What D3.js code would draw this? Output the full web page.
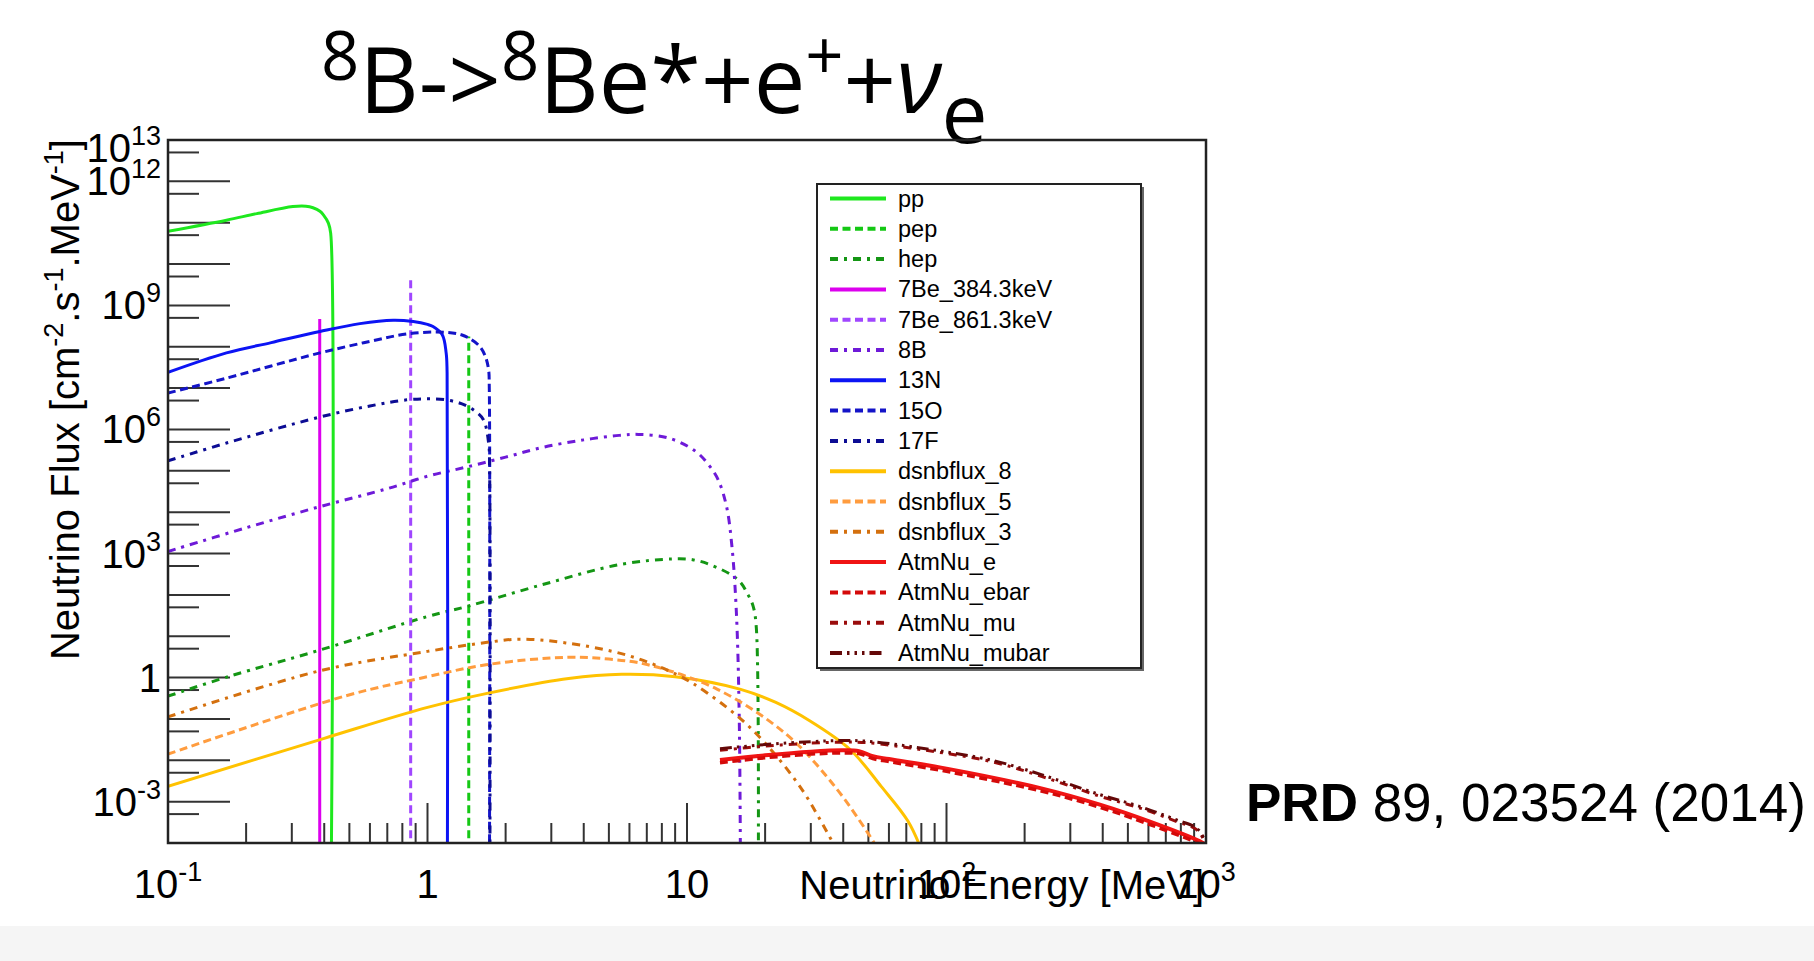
<!DOCTYPE html>
<html>
<head>
<meta charset="utf-8">
<script src="https://cdn.jsdelivr.net/npm/d3@7"></script>
<style>
  html, body { margin: 0; padding: 0; background: #ffffff; }
  svg { display: block; }
</style>
</head>
<body>
<svg id="chart" width="1814" height="961"></svg>
<script>
// ---- axis ranges and tick labels ----
const energyDomain = [0.1, 1000];          // MeV
const fluxDomain = [1e-4, 1e13];           // cm^-2 s^-1 MeV^-1
const energyTickLabels = [
  { v: 0.1, base: "10", sup: "-1" },
  { v: 1, base: "1", sup: "" },
  { v: 10, base: "10", sup: "" },
  { v: 100, base: "10", sup: "2" },
  { v: 1000, base: "10", sup: "3" }
];
const fluxTickLabels = [
  { v: 1e13, base: "10", sup: "13" },
  { v: 1e12, base: "10", sup: "12" },
  { v: 1e9, base: "10", sup: "9" },
  { v: 1e6, base: "10", sup: "6" },
  { v: 1e3, base: "10", sup: "3" },
  { v: 1, base: "1", sup: "" },
  { v: 1e-3, base: "10", sup: "-3" }
];

// ---- series: [energy MeV, flux] ----
const ppFlux = [[0.1, 6.2e10], [0.168, 1.15e11], [0.22, 1.66e11], [0.303, 2.45e11], [0.34, 2.5e11],
  [0.362, 2.3e11], [0.385, 1.9e11], [0.397, 1.55e11], [0.415, 9.8e10], [0.4235, 5.6e10], [0.424, 1e-6]];
const pepFlux = [[1.442, 1e-6], [1.442, 1.78e8]];
const hepFlux = [[0.1, 0.355], [0.172, 1.07], [0.388, 4.7], [1.0, 30], [1.41, 52], [2.78, 178], [5.48, 537],
  [8.8, 741], [10.5, 708], [12.3, 537], [15.7, 234], [17.2, 100], [18.0, 52], [18.5, 16], [18.8, 1e-6]];
const be7LowFlux = [[0.3843, 1e-6], [0.3843, 4.7e8]];
const be7HighFlux = [[0.8613, 1e-6], [0.8613, 4.4e9]];
const b8Flux = [[0.1, 1.12e3], [0.2, 4.2e3], [0.388, 1.38e4], [0.7, 3.7e4], [1.0, 7.4e4], [1.41, 1.23e5],
  [2.0, 2.14e5], [2.78, 3.7e5], [4.0, 5.6e5], [5.48, 7.2e5], [6.5, 7.6e5], [8.5, 6.2e5], [10.8, 2.95e5],
  [12.2, 1.32e5], [13.2, 6.0e4], [14.2, 1.38e4], [14.9, 1.48e3], [15.5, 37], [15.9, 0.1], [16.1, 1e-6]];
const n13Flux = [[0.1, 2.4e7], [0.168, 7.1e7], [0.25, 1.26e8], [0.385, 2.34e8], [0.549, 3.63e8], [0.738, 4.37e8],
  [0.881, 4.07e8], [1.0, 3.47e8], [1.05, 3.09e8], [1.14, 1.95e8], [1.18, 7.1e7], [1.19, 2.34e7], [1.192, 1e-6]];
const o15Flux = [[0.1, 7.6e6], [0.168, 1.74e7], [0.385, 7.1e7], [0.6, 1.35e8], [0.854, 2.09e8], [1.18, 2.24e8],
  [1.35, 1.95e8], [1.46, 1.55e8], [1.59, 1.02e8], [1.67, 5.9e7], [1.72, 2.75e7], [1.73, 1.07e7], [1.732, 1e-6]];
const f17Flux = [[0.1, 1.74e5], [0.168, 4.7e5], [0.385, 2.0e6], [0.6, 3.7e6], [0.832, 5.2e6], [1.0, 5.5e6],
  [1.18, 5.2e6], [1.35, 4.2e6], [1.5, 3.0e6], [1.64, 1.74e6], [1.72, 4.7e5], [1.735, 1e5], [1.738, 1e-6]];
const dsnb8Flux = [[0.1, 2.34e-3], [0.4, 0.034], [1.0, 0.19], [1.68, 0.41], [3.5, 0.95], [5.6, 1.2], [9.0, 1.05],
  [16.1, 0.52], [22, 0.25], [29.8, 0.089], [42.6, 0.018], [56, 2.34e-3], [71, 3.4e-4], [80.5, 6.3e-5]];
const dsnb5Flux = [[0.1, 0.0141], [0.49, 0.37], [1.0, 1.05], [1.68, 2.04], [3.45, 3.1], [5.0, 2.8], [7.08, 2.04],
  [13.1, 0.52], [24.3, 0.041], [36.6, 2.6e-3], [49.8, 1.74e-4], [55, 6.3e-5]];
const dsnb3Flux = [[0.1, 0.112], [0.388, 1.48], [1.0, 4.3], [1.78, 7.4], [2.27, 8.5], [3.41, 6.9], [5.85, 3.5],
  [9.1, 1.2], [12, 0.42], [17.8, 0.056], [26.9, 2.6e-3], [34.8, 1.74e-4], [38, 6.3e-5]];
const atmNuEFlux = [[13.4, 0.0102], [20, 0.0132], [30, 0.0162], [40, 0.0174], [46, 0.0166], [52, 0.0126],
  [60, 0.0107], [100, 6.3e-3], [232, 2.1e-3], [390, 8.5e-4], [608, 3.3e-4], [948, 1.1e-4], [1000, 8.9e-5]];
const atmNuEbarFlux = [[13.4, 8.7e-3], [20, 0.0115], [30, 0.0141], [40, 0.0151], [46, 0.0145], [52, 0.011],
  [60, 9.3e-3], [100, 5.4e-3], [232, 1.8e-3], [390, 7.3e-4], [608, 2.8e-4], [948, 9.5e-5], [1000, 7.8e-5]];
const atmNuMuFlux = [[13.4, 0.0175], [20, 0.022], [30, 0.026], [40, 0.0275], [50, 0.0265], [83, 0.0175],
  [150, 9.2e-3], [232, 4.1e-3], [390, 1.35e-3], [557, 7.0e-4], [771, 3.3e-4], [920, 2.1e-4], [990, 1.0e-4], [1000, 5.5e-5]];
const atmNuMubarFlux = [[13.4, 0.019], [20, 0.024], [30, 0.0282], [40, 0.030], [50, 0.0288], [83, 0.019],
  [150, 0.01], [232, 4.5e-3], [390, 1.48e-3], [557, 7.6e-4], [771, 3.6e-4], [920, 2.3e-4], [990, 1.12e-4], [1000, 6.3e-5]];

// ---- line styles ----
const DASH = "8,4.5";
const DASHDOT = "8,6,3,6";
const DASHDOTS = "12,5,2.5,5,2.5,5,2.5,5";

const series = [
  { name: "pp", data: ppFlux, color: "#1ee81e", dash: null, width: 3 },
  { name: "pep", data: pepFlux, color: "#14c814", dash: DASH, width: 3 },
  { name: "hep", data: hepFlux, color: "#149614", dash: DASHDOT, width: 3 },
  { name: "7Be_384.3keV", data: be7LowFlux, color: "#dc00ee", dash: null, width: 3 },
  { name: "7Be_861.3keV", data: be7HighFlux, color: "#a046ff", dash: DASH, width: 3 },
  { name: "8B", data: b8Flux, color: "#6e1ad8", dash: DASHDOT, width: 3 },
  { name: "13N", data: n13Flux, color: "#0c14f4", dash: null, width: 3 },
  { name: "15O", data: o15Flux, color: "#1414c8", dash: DASH, width: 3 },
  { name: "17F", data: f17Flux, color: "#0c0c94", dash: DASHDOT, width: 3 },
  { name: "dsnbflux_8", data: dsnb8Flux, color: "#ffc200", dash: null, width: 3 },
  { name: "dsnbflux_5", data: dsnb5Flux, color: "#ff9c3e", dash: DASH, width: 3 },
  { name: "dsnbflux_3", data: dsnb3Flux, color: "#d4700e", dash: DASHDOT, width: 3 },
  { name: "AtmNu_e", data: atmNuEFlux, color: "#f01414", dash: null, width: 4 },
  { name: "AtmNu_ebar", data: atmNuEbarFlux, color: "#d40a0a", dash: DASH, width: 3.5 },
  { name: "AtmNu_mu", data: atmNuMuFlux, color: "#9a0c0c", dash: DASHDOT, width: 3 },
  { name: "AtmNu_mubar", data: atmNuMubarFlux, color: "#640808", dash: DASHDOTS, width: 3 }
];

// ---- layout ----
const frame = { left: 168, right: 1206, top: 140, bottom: 843 };
const FONT = "'Liberation Sans', Arial, Helvetica, sans-serif";

const svg = d3.select("#chart");
svg.append("rect").attr("x", 0).attr("y", 0).attr("width", 1814).attr("height", 961).attr("fill", "#ffffff");
svg.append("rect").attr("x", 0).attr("y", 926).attr("width", 1814).attr("height", 35).attr("fill", "#f5f5f5");

const x = d3.scaleLog().domain(energyDomain).range([frame.left, frame.right]);
const y = d3.scaleLog().domain(fluxDomain).range([frame.bottom, frame.top]);

// ---- title ----
const title = svg.append("text")
  .attr("x", 321).attr("y", 113)
  .attr("font-family", "'Open Sans', 'Noto Sans', sans-serif")
  .attr("font-size", 92).attr("fill", "#000");
const supSize = 67, supShift = 33, subSize = 82, subShift = 30;
title.append("tspan").attr("font-size", supSize).attr("dy", -supShift).text("8");
title.append("tspan").attr("dy", supShift).text("B->");
title.append("tspan").attr("font-size", supSize).attr("dy", -supShift).text("8");
title.append("tspan").attr("dy", supShift).text("Be*+e");
title.append("tspan").attr("font-size", supSize).attr("dy", -supShift).text("+");
title.append("tspan").attr("dy", supShift).text("+");
title.append("tspan").attr("font-style", "italic").text("\u03bd");
title.append("tspan").attr("font-size", subSize).attr("dy", subShift).text("e");

// ---- clip region for curves ----
svg.append("clipPath").attr("id", "plotClip")
  .append("rect").attr("x", frame.left).attr("y", frame.top)
  .attr("width", frame.right - frame.left).attr("height", frame.bottom - frame.top);

// ---- ticks ----
const tickG = svg.append("g").attr("stroke", "#333").attr("stroke-width", 2);
// energy axis: decades long, 2..9 short
const xMajor = [], xMinor = [];
for (let p = -1; p <= 3; p++) {
  xMajor.push(Math.pow(10, p));
  if (p < 3) for (let k = 2; k <= 9; k++) xMinor.push(k * Math.pow(10, p));
}
tickG.selectAll("line.xmaj").data(xMajor).join("line")
  .attr("x1", d => x(d)).attr("x2", d => x(d))
  .attr("y1", frame.bottom).attr("y2", frame.bottom - 40);
tickG.selectAll("line.xmin").data(xMinor).join("line")
  .attr("x1", d => x(d)).attr("x2", d => x(d))
  .attr("y1", frame.bottom).attr("y2", frame.bottom - 20);
// flux axis: decades long, 5x short
const yMajor = [], yMinor = [];
for (let p = -4; p <= 13; p++) {
  yMajor.push(Math.pow(10, p));
  if (p < 13) yMinor.push(5 * Math.pow(10, p));
}
tickG.selectAll("line.ymaj").data(yMajor).join("line")
  .attr("x1", frame.left).attr("x2", frame.left + 62)
  .attr("y1", d => y(d)).attr("y2", d => y(d));
tickG.selectAll("line.ymin").data(yMinor).join("line")
  .attr("x1", frame.left).attr("x2", frame.left + 31)
  .attr("y1", d => y(d)).attr("y2", d => y(d));

// ---- curves ----
const line = d3.line()
  .x(d => x(d[0]))
  .y(d => y(d[1]))
  .curve(d3.curveCatmullRom.alpha(0.5));

const curveG = svg.append("g").attr("clip-path", "url(#plotClip)");
curveG.selectAll("path").data(series).join("path")
  .attr("d", d => line(d.data))
  .attr("fill", "none")
  .attr("stroke", d => d.color)
  .attr("stroke-width", d => d.width)
  .attr("stroke-dasharray", d => d.dash)
  .attr("stroke-linejoin", "round");

// ---- frame ----
svg.append("rect")
  .attr("x", frame.left).attr("y", frame.top)
  .attr("width", frame.right - frame.left).attr("height", frame.bottom - frame.top)
  .attr("fill", "none").attr("stroke", "#222").attr("stroke-width", 2.5);

// ---- tick labels ----
const xLab = svg.append("g").attr("font-family", FONT).attr("font-size", 40).attr("fill", "#000");
energyTickLabels.forEach(t => {
  const tx = xLab.append("text").attr("x", x(t.v)).attr("y", 898).attr("text-anchor", "middle");
  tx.append("tspan").text(t.base);
  if (t.sup) tx.append("tspan").attr("font-size", 27).attr("dy", -17).text(t.sup);
});
const yLab = svg.append("g").attr("font-family", FONT).attr("font-size", 40).attr("fill", "#000");
fluxTickLabels.forEach(t => {
  const cy = Math.max(y(t.v), frame.top + 8);
  const ty = yLab.append("text").attr("x", 161).attr("y", cy + 14).attr("text-anchor", "end");
  ty.append("tspan").text(t.base);
  if (t.sup) ty.append("tspan").attr("font-size", 27).attr("dy", -17).text(t.sup);
});

// ---- axis titles ----
svg.append("text")
  .attr("x", 1204).attr("y", 899)
  .attr("text-anchor", "end")
  .attr("font-family", FONT).attr("font-size", 40).attr("fill", "#000")
  .text("Neutrino Energy [MeV]");

const yt = svg.append("text")
  .attr("transform", "translate(79,139) rotate(-90)")
  .attr("text-anchor", "end")
  .attr("font-family", FONT).attr("font-size", 40).attr("fill", "#000");
const ytParts = [["Neutrino Flux [cm", ""], ["-2", "sup"], [".s", ""], ["-1", "sup"], [".MeV", ""], ["-1", "sup"], ["]", ""]];
ytParts.forEach(([txt, kind], i) => {
  const prevSup = i > 0 && ytParts[i - 1][1] === "sup";
  const sp = yt.append("tspan").text(txt);
  if (kind === "sup") sp.attr("font-size", 27).attr("dy", -16);
  else if (prevSup) sp.attr("dy", 16);
});

// ---- legend ----
const legend = { x: 817, y: 184, w: 324, h: 484, row0: 198.5, rowStep: 30.3 };
svg.append("rect")
  .attr("x", legend.x + 3).attr("y", legend.y + 3)
  .attr("width", legend.w).attr("height", legend.h)
  .attr("fill", "#666");
svg.append("rect")
  .attr("x", legend.x).attr("y", legend.y)
  .attr("width", legend.w).attr("height", legend.h)
  .attr("fill", "#fff").attr("stroke", "#222").attr("stroke-width", 2);

const legG = svg.append("g");
const rows = legG.selectAll("g").data(series).join("g")
  .attr("transform", (d, i) => `translate(0,${legend.row0 + i * legend.rowStep})`);
rows.append("line")
  .attr("x1", 830).attr("x2", 886).attr("y1", 0).attr("y2", 0)
  .attr("stroke", d => d.color)
  .attr("stroke-width", 4)
  .attr("stroke-dasharray", d => d.dash);
rows.append("text")
  .attr("x", 898).attr("y", 8)
  .attr("font-family", FONT).attr("font-size", 23.5).attr("fill", "#000")
  .text(d => d.name);

// ---- reference ----
const ref = svg.append("text")
  .attr("x", 1246).attr("y", 821)
  .attr("font-family", FONT).attr("font-size", 53).attr("fill", "#000");
ref.append("tspan").attr("font-weight", "bold").text("PRD");
ref.append("tspan").text(" 89, 023524 (2014)");
</script>
</body>
</html>
